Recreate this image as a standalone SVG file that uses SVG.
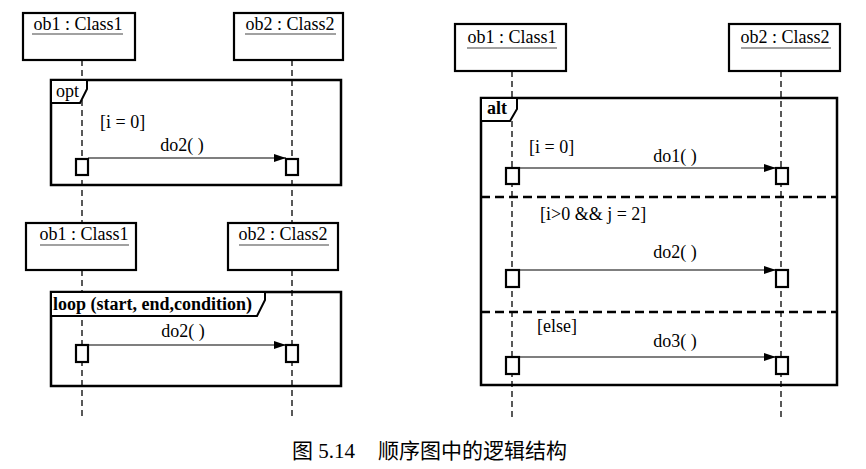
<svg xmlns="http://www.w3.org/2000/svg" width="866" height="469" viewBox="0 0 866 469">
<style>
.bg{fill:#fff}
.obj{fill:#fff;stroke:#000;stroke-width:2.2}
.t{font-family:'Liberation Serif','DejaVu Serif',serif;font-size:18px;fill:#000}
.tb{font-family:'Liberation Serif','DejaVu Serif',serif;font-size:18px;font-weight:bold;fill:#000}
.ul{stroke:#444;stroke-width:1.2}
.life{stroke:#000;stroke-width:1.3;stroke-dasharray:6,4;fill:none}
.frame{fill:none;stroke:#000;stroke-width:2.5}
.tag{fill:#fff;stroke:#000;stroke-width:2}
.sep{stroke:#000;stroke-width:2.5;stroke-dasharray:9,5}
.act{fill:#fff;stroke:#000;stroke-width:2.2}
.msg{stroke:#000;stroke-width:1.2;fill:none;marker-end:url(#ah)}
.cap{font-family:'Liberation Serif','Noto Sans CJK SC',serif;font-size:21px;fill:#000}
</style>
<defs>
<marker id="ah" markerUnits="userSpaceOnUse" markerWidth="12" markerHeight="8" refX="12" refY="4" orient="auto">
<path d="M0,0 L12,4 L0,8 Z" fill="#000"/>
</marker>
</defs>
<rect class="bg" x="0" y="0" width="866" height="469"/>

<!-- lifelines -->
<g id="lifelines">
<line class="life" x1="82" y1="60" x2="82" y2="223"/>
<line class="life" x1="292" y1="60" x2="292" y2="223"/>
<line class="life" x1="82" y1="270" x2="82" y2="420"/>
<line class="life" x1="292" y1="270" x2="292" y2="420"/>
<line class="life" x1="512" y1="71" x2="512" y2="418"/>
<line class="life" x1="781" y1="71" x2="781" y2="418"/>
</g>

<!-- objects -->
<g id="obj-a1">
<rect class="obj" x="23" y="13" width="112" height="47"/>
<text class="t" x="78" y="30" text-anchor="middle">ob1 : Class1</text>
<line class="ul" x1="32" y1="34" x2="123" y2="34"/>
</g>
<g id="obj-a2">
<rect class="obj" x="234" y="13" width="109" height="47"/>
<text class="t" x="290" y="30" text-anchor="middle">ob2 : Class2</text>
<line class="ul" x1="245" y1="34" x2="336" y2="34"/>
</g>
<g id="obj-b1">
<rect class="obj" x="26" y="223" width="110" height="47"/>
<text class="t" x="84" y="240" text-anchor="middle">ob1 : Class1</text>
<line class="ul" x1="40" y1="245" x2="129" y2="245"/>
</g>
<g id="obj-b2">
<rect class="obj" x="228" y="223" width="110" height="47"/>
<text class="t" x="283" y="240" text-anchor="middle">ob2 : Class2</text>
<line class="ul" x1="239" y1="245" x2="329" y2="245"/>
</g>
<g id="obj-c1">
<rect class="obj" x="455" y="24" width="111" height="47"/>
<text class="t" x="512" y="43" text-anchor="middle">ob1 : Class1</text>
<line class="ul" x1="467" y1="48" x2="557" y2="48"/>
</g>
<g id="obj-c2">
<rect class="obj" x="729" y="24" width="111" height="47"/>
<text class="t" x="785" y="43" text-anchor="middle">ob2 : Class2</text>
<line class="ul" x1="741" y1="48" x2="831" y2="48"/>
</g>

<!-- opt frame -->
<g id="frame-opt">
<rect class="frame" x="51" y="80" width="290" height="105"/>
<path class="tag" d="M51,80 H87 V89 L80,103 H51 Z"/>
<text class="t" x="56" y="97">opt</text>
<text class="t" x="100" y="128">[i = 0]</text>
</g>

<!-- loop frame -->
<g id="frame-loop">
<rect class="frame" x="51" y="292" width="290" height="94"/>
<path class="tag" d="M51,292 H265 V300 L257,316 H51 Z"/>
<text class="tb" x="53" y="310">loop (start, end,condition)</text>
</g>

<!-- alt frame -->
<g id="frame-alt">
<rect class="frame" x="481" y="98" width="356" height="287"/>
<path class="tag" d="M481,98 H517 V109 L510,121 H481 Z"/>
<text class="tb" x="487" y="114">alt</text>
<line class="sep" x1="481" y1="197" x2="837" y2="197"/>
<line class="sep" x1="481" y1="312" x2="837" y2="312"/>
<text class="t" x="529" y="153">[i = 0]</text>
<text class="t" x="540" y="220">[i&gt;0 &amp;&amp; j = 2]</text>
<text class="t" x="537" y="332">[else]</text>
</g>

<!-- connectors -->
<g id="connectors">
<line class="msg" x1="88" y1="158" x2="286" y2="158"/>
<text class="t" x="182" y="151" text-anchor="middle">do2( )</text>
<line class="msg" x1="88" y1="345" x2="286" y2="345"/>
<text class="t" x="183" y="337" text-anchor="middle">do2( )</text>
<line class="msg" x1="519" y1="168" x2="776" y2="168"/>
<text class="t" x="675" y="162" text-anchor="middle">do1( )</text>
<line class="msg" x1="519" y1="270" x2="776" y2="270"/>
<text class="t" x="675" y="258" text-anchor="middle">do2( )</text>
<line class="msg" x1="519" y1="357" x2="776" y2="357"/>
<text class="t" x="675" y="347" text-anchor="middle">do3( )</text>
</g>

<!-- activations -->
<g id="activations">
<rect class="act" x="76" y="159" width="12" height="16"/>
<rect class="act" x="286" y="159" width="12" height="16"/>
<rect class="act" x="76" y="345" width="12" height="17"/>
<rect class="act" x="286" y="345" width="12" height="17"/>
<rect class="act" x="506" y="168" width="13" height="16"/>
<rect class="act" x="776" y="168" width="12" height="16"/>
<rect class="act" x="506" y="270" width="13" height="17"/>
<rect class="act" x="776" y="270" width="12" height="17"/>
<rect class="act" x="506" y="357" width="13" height="17"/>
<rect class="act" x="776" y="357" width="12" height="17"/>
</g>

<text class="cap" x="292" y="458">图 5.14<tspan x="378">顺序图中的逻辑结构</tspan></text>
</svg>
